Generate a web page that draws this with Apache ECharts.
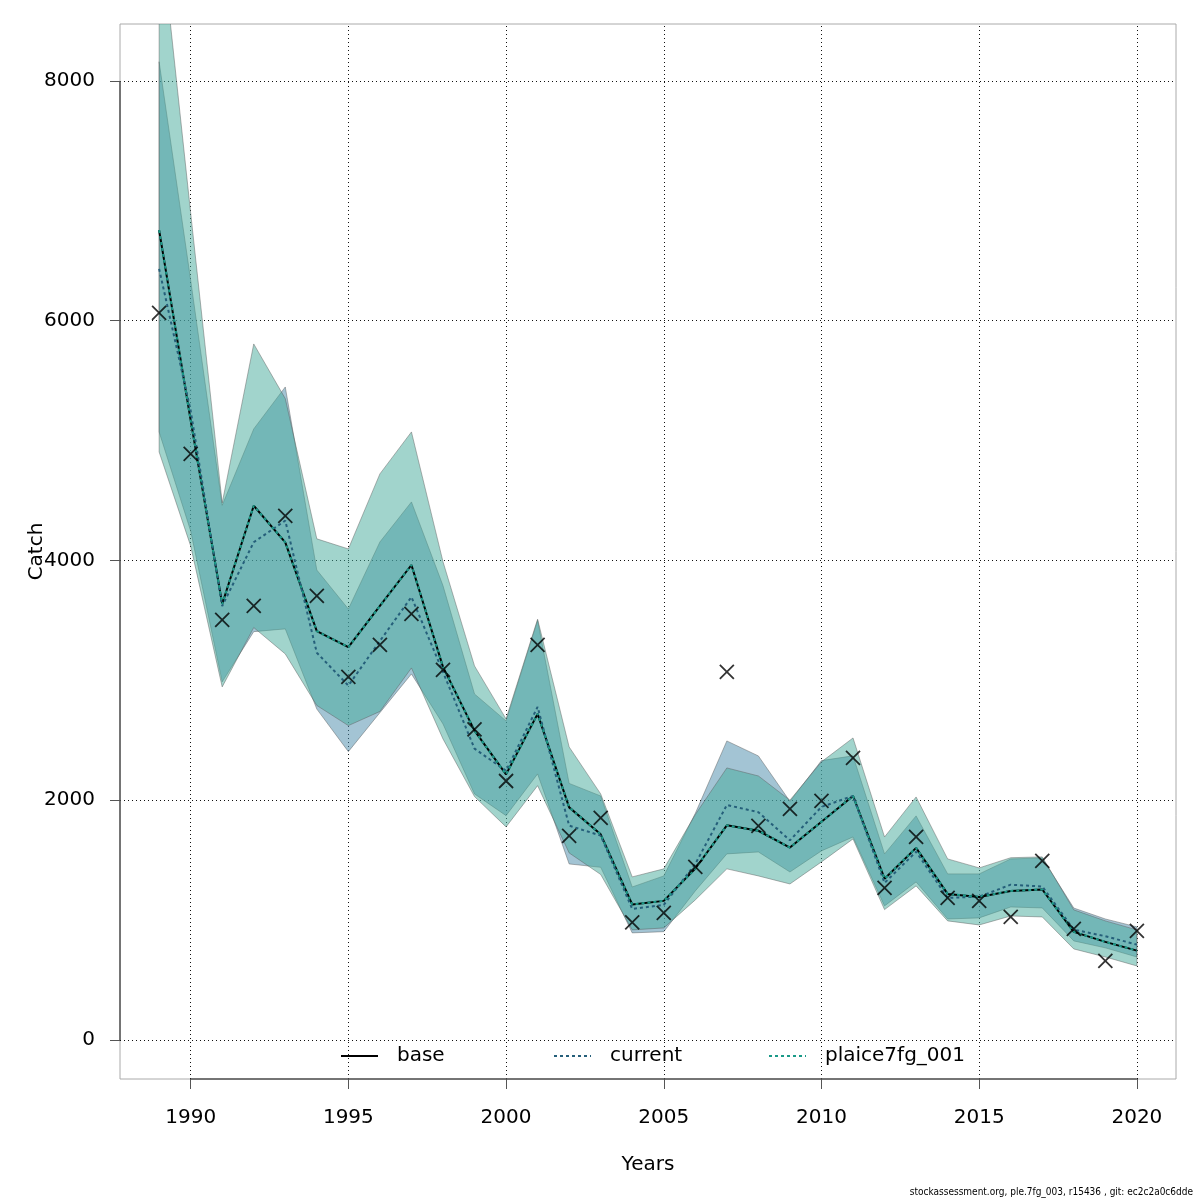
<!DOCTYPE html>
<html>
<head>
<meta charset="utf-8">
<title>Catch</title>
<script src="https://cdn.jsdelivr.net/npm/echarts@6/dist/echarts.min.js"></script>
<style>
  html, body { margin: 0; padding: 0; background: #fff; }
  #chart { width: 1200px; height: 1200px; }
</style>
</head>
<body>
<div id="chart"></div>
<script>
const FONT = "DejaVu Sans";

const years = [1989, 1990, 1991, 1992, 1993, 1994, 1995, 1996, 1997, 1998, 1999, 2000,
  2001, 2002, 2003, 2004, 2005, 2006, 2007, 2008, 2009, 2010, 2011, 2012,
  2013, 2014, 2015, 2016, 2017, 2018, 2019, 2020];

// observed catch (crosses)
const observed = [6065, 4889, 3504, 3620, 4371, 3704, 3028, 3295, 3554, 3087, 2590, 2160,
  3295, 1702, 1852, 980, 1059, 1443, 3070, 1785, 1927, 1994, 2352, 1268,
  1693, 1185, 1160, 1026, 1493, 926, 659, 909];

// model estimates
const base = [6755, 5170, 3637, 4456, 4150, 3410, 3277, 3620, 3962, 3112, 2580, 2215,
  2720, 1940, 1715, 1130, 1160, 1430, 1790, 1745, 1605, 1820, 2035, 1345,
  1602, 1218, 1193, 1243, 1255, 901, 818, 745];
const current = [6432, 5250, 3620, 4152, 4332, 3230, 2956, 3328, 3695, 3070, 2430, 2245,
  2778, 1788, 1704, 1093, 1126, 1468, 1960, 1900, 1665, 1944, 2035, 1310,
  1570, 1185, 1195, 1295, 1280, 920, 865, 795];
const plaice = [6755, 5170, 3637, 4456, 4150, 3410, 3277, 3620, 3962, 3112, 2580, 2215,
  2720, 1940, 1715, 1130, 1160, 1430, 1790, 1745, 1605, 1820, 2035, 1345,
  1602, 1218, 1193, 1243, 1255, 901, 818, 745];

// confidence bands
const currentHi = [8160, 6340, 4460, 5097, 5447, 3920, 3595, 4154, 4488, 3790, 2886, 2661,
  3500, 2140, 2035, 1276, 1368, 1890, 2494, 2369, 1990, 2330, 2370, 1552,
  1869, 1385, 1385, 1510, 1518, 1100, 1009, 943];
const currentLo = [5072, 4246, 2987, 3406, 3429, 2760, 2405, 2730, 3053, 2636, 2052, 1871,
  2219, 1468, 1440, 893, 903, 1243, 1552, 1568, 1401, 1577, 1693, 1118,
  1318, 1009, 1018, 1109, 1101, 826, 768, 692];
const plaiceHi = [9360, 6900, 4480, 5806, 5350, 4180, 4096, 4722, 5072, 3990, 3120, 2678,
  3510, 2444, 2052, 1360, 1427, 1880, 2269, 2202, 2000, 2320, 2519, 1693,
  2027, 1510, 1435, 1520, 1527, 1085, 993, 918];
const plaiceLo = [4905, 4121, 2945, 3440, 3220, 2790, 2622, 2740, 3103, 2511, 2030, 1777,
  2121, 1560, 1380, 918, 934, 1168, 1427, 1368, 1301, 1485, 1677, 1087,
  1285, 993, 959, 1034, 1026, 759, 692, 617];

// axes
const xTicks = [1990, 1995, 2000, 2005, 2010, 2015, 2020];
const yTicks = [0, 2000, 4000, 6000, 8000];
const xMin = 1987.76, xMax = 2021.24;
const yMin = -326, yMax = 8475;

// legend entries and where each one starts (px from left)
const legendNames = ["base", "current", "plaice7fg_001"];
const legendLeft = [340, 553, 768];

function pairs(values) {
  return years.map((y, i) => [y, values[i]]);
}

function bandSeries(name, lo, hi, fill) {
  return {
    type: "custom",
    name,
    z: 2,
    silent: true,
    data: [[years[0], lo[0]]],
    renderItem(params, api) {
      const pts = [];
      years.forEach((y, i) => pts.push(api.coord([y, hi[i]])));
      for (let i = years.length - 1; i >= 0; i--) {
        pts.push(api.coord([years[i], lo[i]]));
      }
      const cs = params.coordSys;
      return {
        type: "polygon",
        shape: { points: pts },
        style: { fill, stroke: "rgba(90,90,90,0.45)", lineWidth: 1 },
        clipPath: {
          type: "rect",
          shape: { x: cs.x, y: cs.y, width: cs.width, height: cs.height },
        },
      };
    },
  };
}

function lineSeries(name, values, color, type) {
  return {
    type: "line",
    name,
    z: 3,
    data: pairs(values),
    symbol: "none",
    silent: true,
    lineStyle: { color, width: 2, type },
    itemStyle: { color: "rgba(0,0,0,0)", borderWidth: 0 },
  };
}

const gridMarks = {
  silent: true,
  symbol: "none",
  z: 1,
  label: { show: false },
  lineStyle: { color: "#111", width: 1, type: [1, 3] },
  data: [
    ...xTicks.map((v) => ({ xAxis: v })),
    ...yTicks.map((v) => ({ yAxis: v })),
  ],
};

const axisMarks = {
  silent: true,
  symbol: "none",
  z: 6,
  label: { show: false },
  lineStyle: { color: "#555", width: 1.5, type: "solid" },
  data: [
    [{ coord: [xTicks[0], yMin] }, { coord: [xTicks[xTicks.length - 1], yMin] }],
    [{ coord: [xMin, yTicks[0]] }, { coord: [xMin, yTicks[yTicks.length - 1]] }],
  ],
};

const chart = echarts.init(document.getElementById("chart"), null, { renderer: "canvas" });

chart.setOption({
  animation: false,
  backgroundColor: "#fff",
  grid: {
    left: 120, right: 24, top: 24, bottom: 121,
    show: true, borderColor: "#aaa", borderWidth: 1, backgroundColor: "transparent",
  },
  xAxis: {
    type: "value",
    min: xMin,
    max: xMax,
    name: "Years",
    nameLocation: "middle",
    nameGap: 76,
    nameMoveOverlap: false,
    nameTextStyle: { fontFamily: FONT, fontSize: 20, color: "#000" },
    axisLine: { show: false, onZero: false },
    splitLine: { show: false },
    axisTick: { show: true, length: 10, customValues: xTicks, lineStyle: { color: "#555" } },
    axisLabel: {
      customValues: xTicks, margin: 29,
      formatter: (v) => String(v),
      fontFamily: FONT, fontSize: 20, color: "#000",
    },
  },
  yAxis: {
    type: "value",
    min: yMin,
    max: yMax,
    name: "Catch",
    nameLocation: "middle",
    nameGap: 73,
    nameRotate: 90,
    nameMoveOverlap: false,
    nameTextStyle: { fontFamily: FONT, fontSize: 20, color: "#000" },
    axisLine: { show: false, onZero: false },
    splitLine: { show: false },
    axisTick: { show: true, length: 10, customValues: yTicks, lineStyle: { color: "#555" } },
    axisLabel: {
      customValues: yTicks, margin: 25,
      formatter: (v) => String(v),
      fontFamily: FONT, fontSize: 20, color: "#000",
    },
  },
  legend: legendNames.map((name, i) => ({
    left: legendLeft[i],
    top: 1046,
    padding: 0,
    itemWidth: 37,
    itemHeight: 20,
    selectedMode: false,
    itemStyle: { color: "rgba(0,0,0,0)", borderWidth: 0, opacity: 0 },
    textStyle: { fontFamily: FONT, fontSize: 20, color: "#000", padding: [0, 0, 0, 14] },
    data: [name],
  })),
  graphic: [
    {
      type: "text",
      right: 7,
      bottom: 3,
      style: {
        text: "stockassessment.org, ple.7fg_003, r15436 , git: ec2c2a0c6dde",
        font: '10px "DejaVu Sans Condensed", "DejaVu Sans"',
        fill: "#000",
      },
    },
  ],
  series: [
    {
      type: "line",
      name: "grid",
      data: [],
      silent: true,
      markLine: gridMarks,
    },
    bandSeries("current band", currentLo, currentHi, "rgba(71,137,169,0.5)"),
    bandSeries("plaice band", plaiceLo, plaiceHi, "rgba(67,169,153,0.5)"),
    lineSeries("base", base, "#000", "solid"),
    lineSeries("current", current, "#255f7a", [3, 3]),
    lineSeries("plaice7fg_001", plaice, "#1a9a88", [3, 3]),
    {
      type: "scatter",
      name: "observed",
      z: 5,
      silent: true,
      data: pairs(observed),
      symbol: "path://M0,0L10,10M10,0L0,10",
      symbolSize: 14,
      itemStyle: { color: "rgba(0,0,0,0)", borderColor: "#000", borderWidth: 1.8 },
      markLine: axisMarks,
    },
  ],
});
</script>
</body>
</html>
